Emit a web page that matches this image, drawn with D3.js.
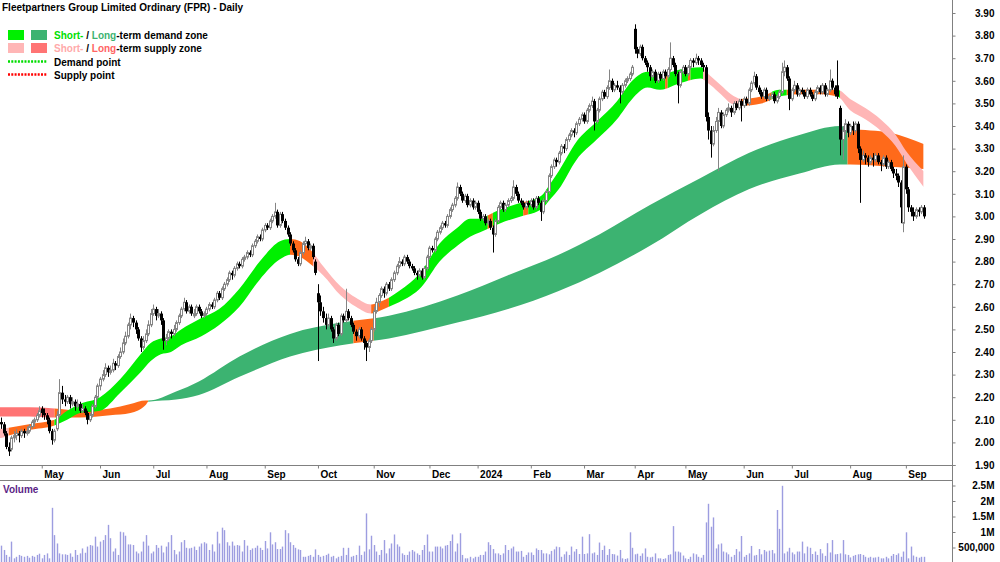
<!DOCTYPE html>
<html><head><meta charset="utf-8">
<script src="https://cdn.jsdelivr.net/npm/d3@7"></script>
<style>
body{margin:0;background:#fff}
svg{display:block}
text{font-family:"Liberation Sans",Arial,sans-serif;font-weight:bold;font-size:10px}
</style>
</head><body>
<svg id="chart" width="1000" height="562"></svg>
<script>
const title = "Fleetpartners Group Limited Ordinary (FPR) - Daily";
const priceTicks = [1.9,2.0,2.1,2.2,2.3,2.4,2.5,2.6,2.7,2.8,2.9,3.0,3.1,3.2,3.3,3.4,3.5,3.6,3.7,3.8,3.9];
const volTicks = [0.5,1,1.5,2,2.5];
const volTickLabels = ["500,000","1M","1.5M","2M","2.5M"];
const startDate = "2023-04-04";
const holidays = ["2023-04-07","2023-04-10","2023-04-25","2023-06-12","2023-12-25","2023-12-26","2024-01-01","2024-01-26","2024-03-29","2024-04-01","2024-04-25","2024-06-10"];

// daily candles [open, high, low, close]
const ohlc = [
[2.09,2.11,2.06,2.08],[2.08,2.09,2.03,2.04],[2.04,2.05,1.97,1.98],[1.98,2.00,1.94,1.96],[1.97,2.03,1.96,2.02],
[2.02,2.05,2.00,2.03],[2.03,2.06,2.01,2.04],[2.04,2.05,2.00,2.03],[2.03,2.06,2.02,2.05],[2.05,2.06,2.02,2.04],
[2.04,2.07,2.03,2.05],[2.05,2.08,2.04,2.07],[2.07,2.10,2.06,2.09],[2.09,2.11,2.07,2.10],[2.10,2.13,2.09,2.12],
[2.12,2.16,2.11,2.14],[2.15,2.16,2.11,2.13],[2.13,2.15,2.10,2.12],[2.12,2.13,2.08,2.10],[2.10,2.11,2.04,2.05],
[2.05,2.06,1.99,2.01],[2.01,2.06,2.00,2.05],[2.06,2.14,2.05,2.12],[2.12,2.28,2.11,2.22],[2.22,2.25,2.17,2.19],
[2.19,2.21,2.16,2.18],[2.18,2.21,2.17,2.20],[2.20,2.21,2.15,2.17],[2.17,2.20,2.16,2.18],[2.18,2.19,2.14,2.16],
[2.16,2.19,2.15,2.17],[2.17,2.18,2.13,2.14],[2.14,2.17,2.13,2.15],[2.15,2.16,2.12,2.13],[2.13,2.14,2.08,2.10],
[2.10,2.13,2.09,2.12],[2.12,2.17,2.11,2.16],[2.16,2.21,2.15,2.20],[2.20,2.26,2.19,2.25],[2.25,2.29,2.23,2.28],
[2.28,2.32,2.27,2.30],[2.30,2.35,2.29,2.33],[2.33,2.34,2.29,2.31],[2.31,2.34,2.30,2.32],[2.32,2.37,2.31,2.35],
[2.35,2.36,2.32,2.34],[2.34,2.39,2.33,2.38],[2.38,2.42,2.37,2.40],[2.40,2.46,2.39,2.44],[2.44,2.49,2.43,2.47],
[2.47,2.53,2.46,2.52],[2.52,2.57,2.50,2.55],[2.55,2.56,2.51,2.53],[2.53,2.54,2.48,2.50],[2.50,2.51,2.45,2.46],
[2.46,2.47,2.40,2.42],[2.42,2.47,2.41,2.45],[2.45,2.50,2.44,2.48],[2.48,2.54,2.47,2.52],[2.52,2.59,2.51,2.57],
[2.57,2.61,2.56,2.59],[2.59,2.60,2.54,2.56],[2.56,2.59,2.55,2.57],[2.57,2.58,2.52,2.54],[2.54,2.55,2.41,2.45],
[2.45,2.48,2.43,2.46],[2.46,2.50,2.45,2.49],[2.49,2.50,2.46,2.48],[2.48,2.52,2.47,2.50],[2.50,2.54,2.49,2.53],
[2.53,2.57,2.52,2.56],[2.56,2.60,2.55,2.59],[2.59,2.64,2.58,2.62],[2.62,2.63,2.57,2.58],[2.58,2.61,2.57,2.60],
[2.60,2.61,2.56,2.57],[2.56,2.59,2.55,2.57],[2.57,2.61,2.56,2.60],[2.60,2.61,2.57,2.58],[2.58,2.59,2.55,2.56],
[2.56,2.58,2.55,2.57],[2.57,2.60,2.56,2.59],[2.59,2.62,2.58,2.61],[2.61,2.62,2.59,2.60],[2.60,2.64,2.59,2.63],
[2.63,2.67,2.62,2.66],[2.66,2.67,2.63,2.64],[2.64,2.69,2.63,2.68],[2.68,2.71,2.67,2.70],[2.70,2.73,2.69,2.72],
[2.72,2.76,2.71,2.75],[2.75,2.76,2.72,2.74],[2.74,2.78,2.73,2.77],[2.77,2.80,2.76,2.79],[2.79,2.80,2.77,2.78],
[2.78,2.82,2.77,2.81],[2.81,2.83,2.80,2.82],[2.82,2.85,2.81,2.84],[2.84,2.85,2.82,2.83],[2.83,2.88,2.82,2.87],
[2.87,2.90,2.86,2.89],[2.89,2.92,2.88,2.91],[2.91,2.92,2.89,2.90],[2.90,2.95,2.89,2.94],[2.94,2.97,2.93,2.96],
[2.96,2.97,2.94,2.95],[2.95,2.99,2.94,2.98],[2.98,3.01,2.97,3.00],[3.00,3.06,2.99,3.02],[3.02,3.03,2.95,2.96],
[2.96,3.02,2.95,3.01],[3.01,3.02,2.97,2.98],[2.98,2.99,2.94,2.95],[2.95,2.96,2.91,2.92],[2.92,2.93,2.87,2.88],
[2.88,2.89,2.84,2.85],[2.85,2.86,2.80,2.81],[2.81,2.82,2.78,2.79],[2.79,2.85,2.78,2.84],[2.84,2.89,2.83,2.88],
[2.88,2.91,2.87,2.89],[2.89,2.90,2.85,2.86],[2.86,2.88,2.85,2.87],[2.87,2.88,2.81,2.82],[2.80,2.81,2.74,2.75],
[2.66,2.70,2.36,2.62],[2.62,2.65,2.56,2.58],[2.58,2.60,2.53,2.55],[2.55,2.57,2.50,2.52],[2.52,2.57,2.51,2.55],
[2.55,2.56,2.49,2.50],[2.50,2.51,2.44,2.46],[2.46,2.53,2.45,2.52],[2.52,2.53,2.47,2.48],[2.48,2.57,2.47,2.56],
[2.56,2.57,2.53,2.54],[2.54,2.68,2.53,2.58],[2.58,2.59,2.54,2.55],[2.55,2.56,2.51,2.52],[2.52,2.53,2.48,2.49],
[2.49,2.50,2.45,2.47],[2.47,2.51,2.46,2.50],[2.50,2.51,2.45,2.46],[2.46,2.47,2.41,2.44],[2.44,2.45,2.36,2.42],
[2.42,2.46,2.40,2.45],[2.45,2.51,2.44,2.50],[2.50,2.60,2.49,2.58],[2.58,2.64,2.57,2.62],[2.62,2.66,2.60,2.65],
[2.65,2.69,2.64,2.68],[2.68,2.69,2.64,2.66],[2.66,2.71,2.65,2.70],[2.70,2.71,2.67,2.68],[2.68,2.73,2.67,2.72],
[2.72,2.76,2.71,2.75],[2.75,2.79,2.74,2.78],[2.78,2.82,2.77,2.80],[2.80,2.81,2.78,2.79],[2.79,2.83,2.78,2.82],
[2.82,2.83,2.79,2.80],[2.80,2.81,2.77,2.78],[2.78,2.79,2.76,2.77],[2.77,2.78,2.74,2.75],[2.75,2.76,2.72,2.74],
[2.74,2.77,2.73,2.76],[2.76,2.77,2.72,2.73],[2.73,2.78,2.72,2.77],[2.77,2.83,2.76,2.82],[2.82,2.87,2.81,2.86],
[2.86,2.87,2.84,2.85],[2.85,2.91,2.84,2.90],[2.90,2.94,2.89,2.93],[2.93,2.96,2.92,2.95],[2.95,2.98,2.94,2.97],
[2.97,2.98,2.95,2.96],[2.96,3.01,2.95,3.00],[3.00,3.04,2.99,3.03],[3.03,3.06,3.02,3.05],[3.05,3.09,3.04,3.08],
[3.08,3.15,3.07,3.13],[3.13,3.14,3.09,3.10],[3.10,3.11,3.06,3.07],[3.07,3.10,3.06,3.09],[3.09,3.10,3.04,3.05],
[3.05,3.08,3.04,3.07],[3.07,3.08,3.03,3.04],[3.04,3.07,3.03,3.06],[3.06,3.07,3.01,3.02],[3.02,3.03,2.98,2.99],
[2.99,3.01,2.98,3.00],[3.00,3.01,2.96,2.97],[2.97,2.99,2.96,2.98],[2.98,2.99,2.94,2.95],[2.95,2.96,2.84,2.92],
[2.92,2.99,2.91,2.98],[2.98,3.05,2.97,3.04],[3.04,3.07,3.03,3.06],[3.06,3.07,3.02,3.03],[3.03,3.06,3.02,3.05],
[3.05,3.08,3.04,3.07],[3.07,3.09,3.06,3.08],[3.08,3.16,3.07,3.13],[3.13,3.14,3.09,3.10],[3.10,3.11,3.06,3.07],
[3.07,3.08,3.05,3.06],[3.06,3.07,3.03,3.04],[3.04,3.07,3.03,3.06],[3.06,3.07,3.04,3.05],[3.05,3.08,3.04,3.07],
[3.07,3.08,3.03,3.04],[3.04,3.09,3.03,3.08],[3.08,3.09,3.05,3.06],[3.06,3.07,2.98,3.02],[3.02,3.08,3.01,3.07],
[3.07,3.12,3.06,3.11],[3.11,3.19,3.10,3.18],[3.18,3.23,3.17,3.22],[3.22,3.26,3.21,3.25],[3.25,3.26,3.22,3.24],
[3.24,3.29,3.23,3.28],[3.28,3.32,3.27,3.31],[3.31,3.32,3.28,3.30],[3.30,3.35,3.29,3.34],[3.34,3.37,3.33,3.36],
[3.36,3.39,3.35,3.38],[3.38,3.39,3.35,3.37],[3.37,3.42,3.36,3.41],[3.41,3.44,3.40,3.43],[3.43,3.46,3.42,3.45],
[3.45,3.46,3.41,3.42],[3.42,3.48,3.41,3.47],[3.47,3.50,3.46,3.49],[3.49,3.53,3.48,3.51],[3.51,3.52,3.38,3.42],
[3.42,3.48,3.41,3.47],[3.47,3.53,3.46,3.52],[3.52,3.56,3.51,3.55],[3.55,3.56,3.52,3.53],[3.53,3.58,3.52,3.57],
[3.57,3.65,3.56,3.60],[3.60,3.61,3.55,3.56],[3.56,3.59,3.55,3.58],[3.58,3.60,3.56,3.57],[3.57,3.58,3.50,3.55],
[3.55,3.59,3.54,3.58],[3.58,3.61,3.57,3.60],[3.60,3.62,3.59,3.61],[3.61,3.64,3.60,3.63],[3.63,3.67,3.62,3.66],
[3.83,3.85,3.72,3.74],[3.74,3.75,3.70,3.72],[3.72,3.76,3.71,3.75],[3.75,3.76,3.69,3.70],[3.70,3.71,3.67,3.68],
[3.68,3.69,3.64,3.66],[3.66,3.67,3.60,3.62],[3.62,3.65,3.61,3.64],[3.64,3.65,3.59,3.60],[3.60,3.64,3.59,3.63],
[3.63,3.64,3.60,3.61],[3.61,3.65,3.60,3.64],[3.64,3.65,3.61,3.62],[3.62,3.66,3.61,3.65],[3.65,3.77,3.64,3.70],
[3.70,3.71,3.66,3.67],[3.67,3.68,3.62,3.63],[3.63,3.64,3.50,3.58],[3.58,3.65,3.57,3.64],[3.64,3.67,3.63,3.66],
[3.66,3.67,3.62,3.63],[3.63,3.67,3.62,3.66],[3.66,3.70,3.65,3.69],[3.69,3.70,3.66,3.68],[3.68,3.72,3.67,3.70],
[3.70,3.71,3.67,3.69],[3.69,3.70,3.66,3.67],[3.67,3.68,3.64,3.66],[3.66,3.67,3.42,3.44],[3.44,3.46,3.34,3.38],
[3.38,3.40,3.26,3.32],[3.32,3.40,3.31,3.38],[3.38,3.44,3.37,3.42],[3.42,3.48,3.20,3.46],[3.46,3.47,3.39,3.40],
[3.40,3.46,3.39,3.45],[3.45,3.48,3.44,3.47],[3.47,3.50,3.46,3.48],[3.48,3.49,3.44,3.46],[3.46,3.51,3.45,3.50],
[3.50,3.51,3.47,3.48],[3.48,3.52,3.47,3.51],[3.51,3.52,3.42,3.49],[3.49,3.53,3.48,3.52],[3.52,3.53,3.49,3.50],
[3.50,3.57,3.49,3.56],[3.56,3.60,3.55,3.59],[3.59,3.64,3.58,3.62],[3.62,3.63,3.56,3.57],[3.57,3.58,3.54,3.55],
[3.55,3.56,3.52,3.53],[3.53,3.57,3.52,3.56],[3.56,3.57,3.51,3.52],[3.52,3.54,3.51,3.53],[3.53,3.55,3.52,3.54],
[3.54,3.55,3.50,3.51],[3.51,3.54,3.50,3.53],[3.53,3.56,3.52,3.55],[3.55,3.68,3.54,3.64],[3.64,3.69,3.62,3.66],
[3.66,3.67,3.60,3.61],[3.61,3.62,3.47,3.52],[3.52,3.57,3.51,3.56],[3.56,3.60,3.55,3.58],[3.58,3.59,3.53,3.54],
[3.54,3.57,3.53,3.56],[3.56,3.57,3.54,3.55],[3.55,3.56,3.52,3.53],[3.53,3.57,3.52,3.56],[3.56,3.57,3.53,3.54],
[3.54,3.55,3.51,3.52],[3.52,3.56,3.51,3.55],[3.55,3.58,3.54,3.57],[3.57,3.58,3.54,3.55],[3.55,3.59,3.54,3.58],
[3.58,3.59,3.53,3.54],[3.54,3.57,3.53,3.56],[3.56,3.65,3.55,3.60],[3.60,3.61,3.56,3.57],[3.57,3.58,3.53,3.54],
[3.58,3.69,3.52,3.53],[3.48,3.49,3.27,3.34],[3.34,3.40,3.25,3.38],[3.38,3.43,3.36,3.41],[3.41,3.42,3.35,3.37],
[3.37,3.41,3.36,3.40],[3.40,3.42,3.36,3.38],[3.38,3.42,3.37,3.41],[3.41,3.42,3.28,3.30],[3.30,3.31,3.06,3.25],
[3.25,3.29,3.24,3.27],[3.27,3.28,3.23,3.26],[3.26,3.27,3.22,3.24],[3.24,3.27,3.23,3.26],[3.26,3.28,3.22,3.25],
[3.25,3.28,3.24,3.27],[3.27,3.28,3.23,3.24],[3.24,3.25,3.20,3.23],[3.23,3.27,3.22,3.26],[3.26,3.27,3.21,3.22],
[3.22,3.25,3.21,3.24],[3.24,3.25,3.20,3.21],[3.21,3.22,3.17,3.19],[3.19,3.21,3.16,3.18],[3.18,3.19,3.13,3.15],
[3.15,3.16,2.97,3.04],[2.97,3.27,2.93,3.22],[3.22,3.23,3.10,3.12],[3.12,3.13,3.02,3.04],[3.04,3.05,3.00,3.02],
[3.02,3.04,2.98,3.00],[3.00,3.04,2.99,3.03],[3.03,3.04,3.00,3.02],[3.02,3.05,3.01,3.04],[3.04,3.05,2.99,3.00]
];

// daily volume, millions of shares
const volume = [
0.56,0.42,0.26,0.20,0.69,0.15,0.20,0.26,0.23,0.20,0.23,0.17,0.23,0.20,0.26,0.30,0.15,0.26,0.31,0.15,
1.78,0.90,0.63,0.31,0.28,0.28,0.26,0.31,0.20,0.42,0.26,0.31,0.47,0.33,0.53,0.58,0.56,0.85,0.53,0.69,
0.74,0.90,1.23,0.80,0.37,0.47,0.26,1.01,0.99,0.88,0.60,0.60,0.58,0.37,0.31,0.37,0.69,0.90,0.56,0.31,
0.37,0.58,0.49,0.56,0.34,0.53,0.67,0.90,0.42,0.28,0.37,0.67,0.74,0.49,0.47,0.49,0.53,0.42,0.53,0.63,
0.67,0.63,0.42,0.60,0.37,1.01,0.63,1.14,1.06,0.67,0.56,0.69,0.56,0.58,0.56,0.37,0.74,0.56,0.42,0.47,
0.49,0.56,0.49,0.42,0.71,0.47,0.99,0.60,0.67,0.45,0.45,0.53,1.06,0.96,0.67,0.58,0.49,0.44,0.42,0.20,
0.20,0.23,0.26,0.20,0.44,0.26,0.20,0.23,0.26,0.30,0.20,0.23,0.15,0.20,0.23,0.49,0.26,0.49,0.20,0.23,
0.26,0.56,0.26,0.37,1.60,0.44,0.88,0.58,0.37,0.26,0.42,0.74,0.31,0.47,0.63,0.92,0.60,0.53,0.31,0.26,
0.26,0.37,0.42,0.37,0.31,0.26,0.42,0.58,0.92,0.37,0.37,0.53,0.53,0.53,0.47,0.56,0.58,0.71,0.92,0.37,
0.63,0.96,0.26,0.15,0.15,0.20,0.15,0.20,0.20,0.26,0.26,0.37,0.67,0.58,0.45,0.31,0.31,
0.26,0.31,0.58,0.42,0.47,0.53,0.37,0.37,0.39,0.20,0.26,0.34,0.34,0.26,0.47,0.42,0.42,0.31,0.31,0.28,
0.39,0.44,0.53,0.51,0.20,0.28,0.37,0.26,0.53,0.37,0.45,0.29,0.85,0.29,0.31,0.93,0.31,0.34,0.26,0.66,
0.42,0.56,0.26,0.45,0.29,0.28,0.24,0.42,0.15,0.13,0.15,0.99,0.49,0.28,0.30,0.23,0.31,0.47,0.20,0.18,
0.20,0.31,0.15,0.15,0.13,0.15,0.26,0.28,1.19,0.37,0.37,0.34,0.24,0.15,0.13,0.20,0.31,0.28,0.20,0.17,
0.26,1.31,1.91,1.17,1.47,0.47,0.60,0.63,0.37,0.34,0.28,0.20,0.26,0.45,0.37,0.87,0.20,0.26,0.31,0.55,
0.24,0.26,0.45,0.28,0.42,0.37,0.40,0.42,0.31,1.71,1.10,2.49,0.31,0.37,0.49,0.34,0.28,0.37,0.37,0.69,
0.31,0.53,0.49,0.29,0.37,0.26,0.45,0.31,0.23,0.64,0.34,0.74,0.28,0.29,0.31,0.74,0.28,0.26,0.18,0.23,
0.26,0.28,0.29,0.26,0.20,0.17,0.20,0.17,0.18,0.20,0.15,0.15,0.20,0.15,0.23,0.29,0.26,0.31,0.20,0.37,
0.99,0.15,0.53,0.24,0.20,0.17,0.20,0.20
];

// short-term zone edges [candle index, lower, upper]
const stBand = [
[0,2.02,2.06],[3,2.03,2.065],[11,2.055,2.08],[21,2.075,2.10],[26,2.10,2.14],[31,2.13,2.17],[39,2.14,2.20],
[47,2.22,2.28],[55,2.31,2.39],[59,2.36,2.44],[63,2.39,2.46],[67,2.40,2.47],[71,2.43,2.50],[79,2.47,2.55],
[86,2.52,2.59],[94,2.60,2.68],[102,2.72,2.80],[110,2.81,2.89],[114,2.83,2.90],[118,2.82,2.89],[123,2.78,2.84],
[127,2.74,2.78],[134,2.65,2.69],[140,2.60,2.64],[146,2.57,2.61],[149,2.58,2.62],[153,2.60,2.64],[157,2.62,2.67],
[166,2.69,2.76],[173,2.80,2.88],[180,2.87,2.95],[185,2.91,2.99],[189,2.93,2.99],[193,2.95,3.01],[197,2.97,3.03],
[205,3.00,3.06],[213,3.03,3.09],[217,3.08,3.15],[220,3.12,3.20],[227,3.25,3.33],[235,3.34,3.42],[243,3.43,3.51],
[249,3.52,3.60],[255,3.57,3.64],[260,3.56,3.63],[268,3.59,3.65],[276,3.61,3.66],[280,3.58,3.62],[284,3.54,3.58],
[288,3.50,3.54],[292,3.49,3.52],[300,3.50,3.53],[307,3.53,3.56],[315,3.54,3.56],[323,3.54,3.56],[330,3.53,3.56],
[335,3.47,3.52],[341,3.43,3.48],[347,3.38,3.43],[353,3.31,3.36],[357,3.24,3.29],[364,3.13,3.20]
];
const stSegs = [
[0,3,"stSupply"],[3,21,"weak"],[21,114,"stDemand"],[114,123,"weak"],[123,146,"stSupply"],[146,153,"weak"],
[153,192,"stDemand"],[192,194,"weak"],[194,206,"stDemand"],[206,208,"weak"],[208,262,"stDemand"],[262,263,"weak"],
[263,271,"stDemand"],[271,272,"weak"],[272,277,"stDemand"],[277,292,"stSupply"],[292,304,"weak"],[304,310,"stDemand"],
[310,329,"weak"],[329,331,"stDemand"],[331,364,"stSupply"]
];
// long-term zone edges [candle index, lower, upper]
const ltBand = [
[0,2.115,2.155],[11,2.115,2.155],[21,2.11,2.15],[31,2.11,2.14],[43,2.12,2.15],[51,2.13,2.17],[57,2.165,2.185],
[58,2.18,2.185],[69,2.19,2.225],[78,2.21,2.27],[94,2.29,2.38],[114,2.38,2.48],[134,2.43,2.53],[153,2.46,2.56],
[180,2.53,2.65],[200,2.59,2.74],[220,2.67,2.83],[236,2.75,2.92],[256,2.87,3.05],[276,3.01,3.17],[295,3.12,3.28],
[315,3.19,3.36],[331,3.23,3.40],[335,3.23,3.39],[351,3.22,3.37],[364,3.21,3.32]
];
const ltSegs = [
[0,21,"ltSupply"],[21,58,"weak"],[58,139,"ltDemand"],[139,147,"weak"],[147,334,"ltDemand"],[334,364,"weak"]
];

const colors = {stDemand:"#00f000", ltDemand:"#3cb371", stSupply:"#ffb6b6", ltSupply:"#ff7474", weak:"#ff6a1a"};

// trading calendar
const parse = d3.timeParse("%Y-%m-%d"), fmtKey = d3.timeFormat("%Y-%m-%d");
const dates = [];
for (let d = parse(startDate); dates.length < ohlc.length; d = d3.timeDay.offset(d, 1)) {
  const wd = d.getDay();
  if (wd === 0 || wd === 6 || holidays.includes(fmtKey(d))) continue;
  dates.push(new Date(d));
}

const svg = d3.select("#chart");
const axisX = 952.5;
const x = d3.scaleLinear().domain([0, ohlc.length - 1]).range([1.2, 923.6]);
const y = d3.scaleLinear().domain([1.9, 3.9]).range([465, 13]);
const yv = d3.scaleLinear().domain([0, 2.5]).range([563, 485.5]);

// zones
function drawBand(band, segs, id) {
  const area = d3.area().x(d => x(d[0])).y0(d => y(d[1])).y1(d => y(d[2])).curve(d3.curveMonotoneX);
  const defs = svg.append("defs");
  segs.forEach((s, k) => {
    const x0 = s[0] === 0 ? 0 : x(s[0]);
    const x1 = x(s[1]);
    defs.append("clipPath").attr("id", id + k).append("rect")
      .attr("x", x0).attr("y", 0).attr("width", Math.max(0, x1 - x0)).attr("height", 470);
    svg.append("path").datum(band).attr("d", area)
      .attr("fill", colors[s[2]]).attr("clip-path", `url(#${id + k})`);
  });
}
const bandExt = b => [[-2, b[0][1], b[0][2]], ...b];
drawBand(bandExt(ltBand), ltSegs, "lt");
drawBand(bandExt(stBand), stSegs, "st");

// candles
const cg = svg.append("g");
ohlc.forEach((c, i) => {
  const [o, h, l, cl] = c;
  const up = cl >= o;
  const cx = Math.round(x(i)) + 0.5;
  cg.append("line").attr("x1", cx).attr("x2", cx).attr("y1", y(h)).attr("y2", y(l))
    .attr("stroke", up ? "#858585" : "#000").attr("stroke-width", 1);
  const top = y(Math.max(o, cl)), bot = y(Math.min(o, cl));
  if (up) {
    cg.append("rect").attr("x", cx - 1).attr("y", top).attr("width", 2).attr("height", Math.max(0.5, bot - top))
      .attr("fill", "#fff").attr("stroke", "#858585").attr("stroke-width", 1);
  } else {
    cg.append("rect").attr("x", cx - 1.5).attr("y", top).attr("width", 3).attr("height", Math.max(1, bot - top))
      .attr("fill", "#000");
  }
});

// volume bars
svg.append("g").selectAll("rect").data(volume).join("rect")
  .attr("x", (d, i) => Math.round(x(i)) - 0.2).attr("width", 1.4)
  .attr("y", d => yv(d)).attr("height", d => yv(0) - yv(d))
  .attr("fill", "#9d9de0");

// frame lines
const lineCol = "#808080";
svg.append("line").attr("x1", 0).attr("x2", axisX + 3).attr("y1", 465.5).attr("y2", 465.5).attr("stroke", lineCol);
svg.append("line").attr("x1", 0).attr("x2", axisX).attr("y1", 480.5).attr("y2", 480.5).attr("stroke", lineCol);
svg.append("line").attr("x1", axisX).attr("x2", axisX).attr("y1", 0).attr("y2", 562).attr("stroke", lineCol);

const styleTicks = g => {
  g.select(".domain").remove();
  g.selectAll(".tick line").attr("stroke", lineCol);
  g.selectAll(".tick text").attr("fill", "#000")
    .style("font-size", "10px").style("font-family", "'Liberation Sans',Arial,sans-serif").style("font-weight", "bold");
};

// price axis
const pa = svg.append("g").attr("transform", `translate(${axisX},0)`)
  .call(d3.axisRight(y).tickValues(priceTicks).tickSize(3).tickFormat(d3.format(".2f")));
styleTicks(pa);
pa.selectAll(".tick text").attr("x", 42).attr("text-anchor", "end");

// volume axis
const va = svg.append("g").attr("transform", `translate(${axisX},0)`)
  .call(d3.axisRight(yv).tickValues(volTicks).tickSize(3).tickFormat((d, i) => volTickLabels[i]));
styleTicks(va);
va.selectAll(".tick text").attr("x", 42).attr("text-anchor", "end");

// month axis
const monthIdx = dates.map((d, i) => i).filter(i => i > 0 && dates[i].getMonth() !== dates[i - 1].getMonth());
const xa = svg.append("g").attr("transform", "translate(0,465.5)")
  .call(d3.axisBottom(x).tickValues(monthIdx).tickSize(3)
    .tickFormat(i => dates[i].getMonth() === 0 ? d3.timeFormat("%Y")(dates[i]) : d3.timeFormat("%b")(dates[i])));
styleTicks(xa);
xa.selectAll(".tick text").attr("x", 2).attr("y", 12).attr("dy", 0).attr("text-anchor", "start");

// title and panel label
svg.append("text").attr("x", 2).attr("y", 11).text(title).attr("fill", "#000");
svg.append("text").attr("x", 3).attr("y", 493).text("Volume").attr("fill", "#5b1f86");

// legend
const lg = svg.append("g");
lg.append("rect").attr("x", 8).attr("y", 30).attr("width", 16).attr("height", 10).attr("fill", colors.stDemand);
lg.append("rect").attr("x", 31).attr("y", 30).attr("width", 16).attr("height", 10).attr("fill", colors.ltDemand);
lg.append("rect").attr("x", 8).attr("y", 43).attr("width", 16).attr("height", 10).attr("fill", colors.stSupply);
lg.append("rect").attr("x", 31).attr("y", 43).attr("width", 16).attr("height", 10).attr("fill", colors.ltSupply);
const t1 = lg.append("text").attr("x", 54).attr("y", 38.5);
t1.append("tspan").attr("fill", "#00e000").text("Short-");
t1.append("tspan").attr("fill", "#000").text(" / ");
t1.append("tspan").attr("fill", colors.ltDemand).text("Long");
t1.append("tspan").attr("fill", "#000").text("-term demand zone");
const t2 = lg.append("text").attr("x", 54).attr("y", 51.5);
t2.append("tspan").attr("fill", "#ffaaaa").text("Short-");
t2.append("tspan").attr("fill", "#000").text(" / ");
t2.append("tspan").attr("fill", "#ff6464").text("Long");
t2.append("tspan").attr("fill", "#000").text("-term supply zone");
lg.append("line").attr("x1", 8).attr("x2", 47).attr("y1", 61.5).attr("y2", 61.5)
  .attr("stroke", "#00dd00").attr("stroke-width", 2.5).attr("stroke-dasharray", "2,1.3");
lg.append("line").attr("x1", 8).attr("x2", 47).attr("y1", 74.5).attr("y2", 74.5)
  .attr("stroke", "#ff0000").attr("stroke-width", 2.5).attr("stroke-dasharray", "2,1.3");
lg.append("text").attr("x", 54).attr("y", 65.5).text("Demand point").attr("fill", "#000");
lg.append("text").attr("x", 54).attr("y", 78.5).text("Supply point").attr("fill", "#000");
</script>
</body></html>
